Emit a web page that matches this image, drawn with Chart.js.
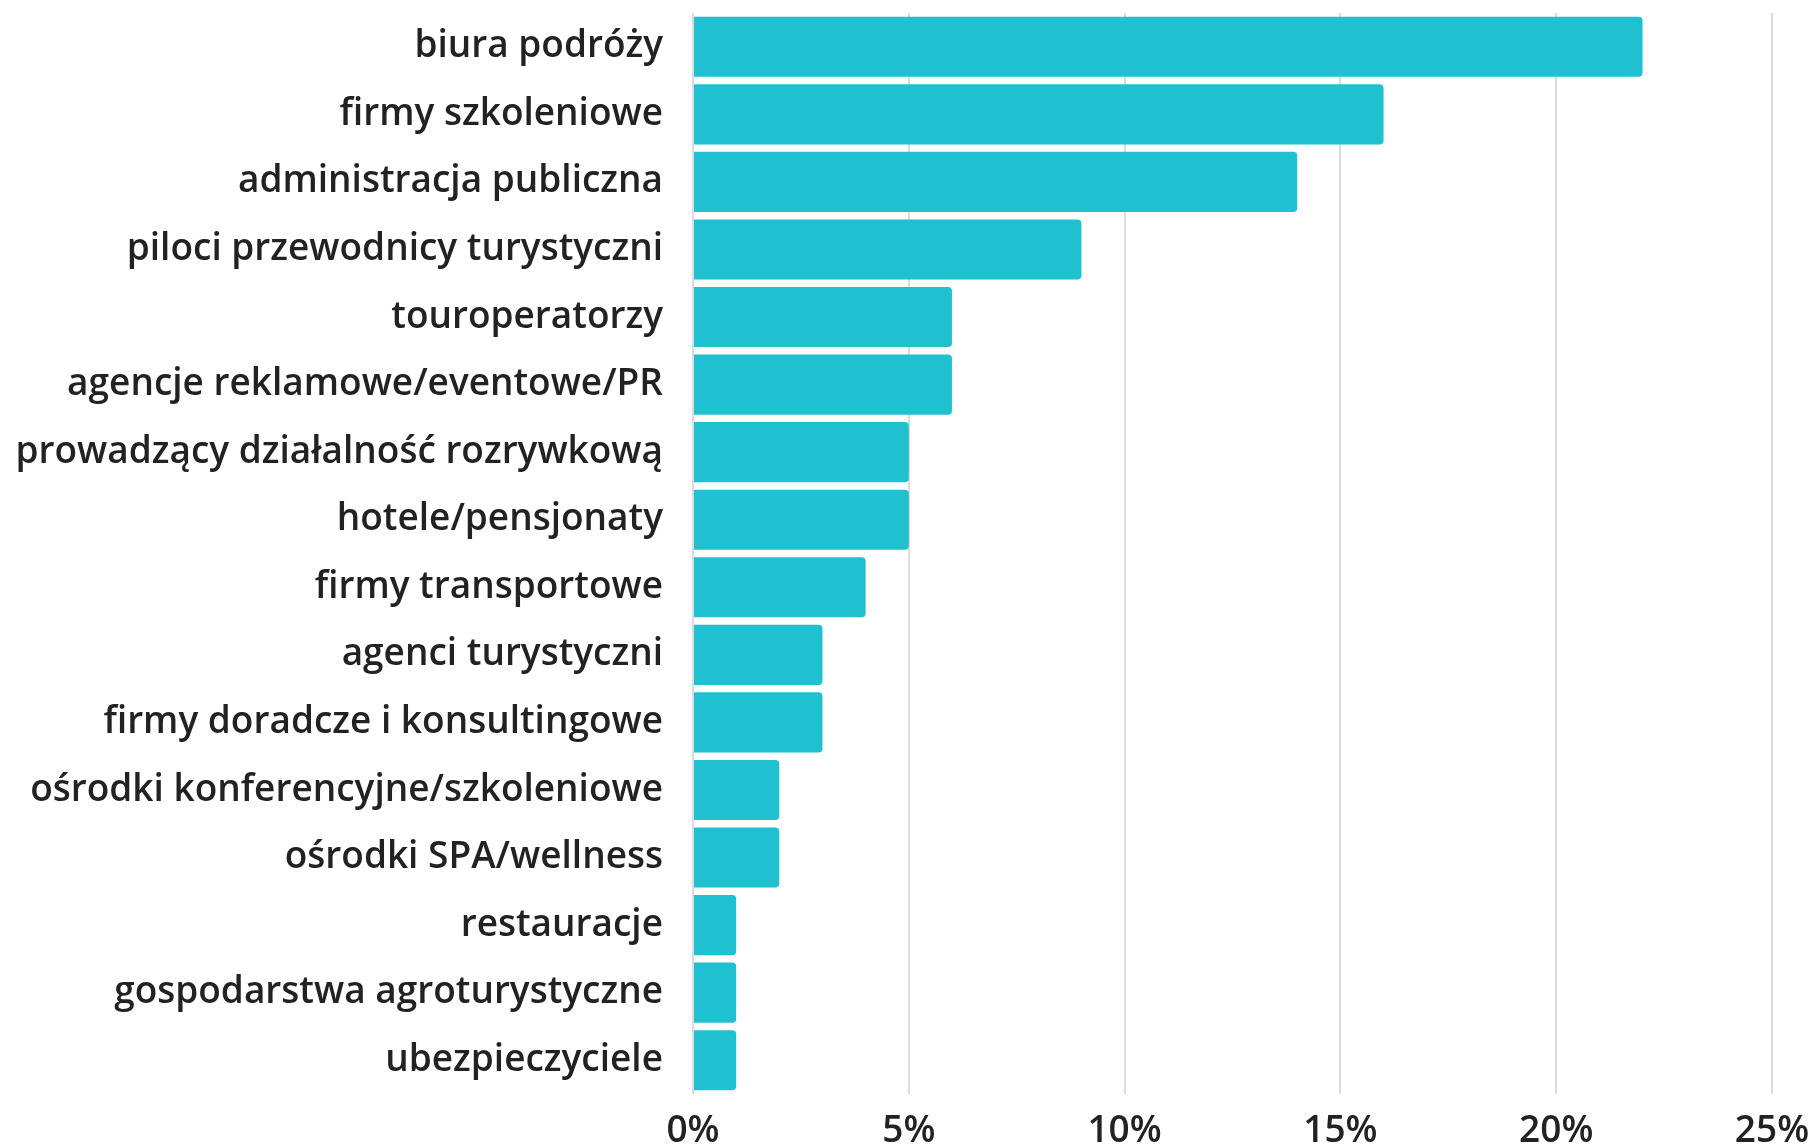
<!DOCTYPE html>
<html lang="pl">
<head>
<meta charset="utf-8">
<title>Wykres słupkowy</title>
<script src="https://cdn.jsdelivr.net/npm/chart.js@4.4.1/dist/chart.umd.min.js"></script>
<style>
    html, body { margin: 0; padding: 0; background: #ffffff; }
    #wrap { width: 1814px; height: 1145px; }
</style>
</head>
<body>
<div id="wrap"><canvas id="chart"></canvas></div>
<script>
//---------
//Dane
//---------

//Kategorie
const categories = [
    "biura podróży",
    "firmy szkoleniowe",
    "administracja publiczna",
    "piloci przewodnicy turystyczni",
    "touroperatorzy",
    "agencje reklamowe/eventowe/PR",
    "prowadzący działalność rozrywkową",
    "hotele/pensjonaty",
    "firmy transportowe",
    "agenci turystyczni",
    "firmy doradcze i konsultingowe",
    "ośrodki konferencyjne/szkoleniowe",
    "ośrodki SPA/wellness",
    "restauracje",
    "gospodarstwa agroturystyczne",
    "ubezpieczyciele"
];

//Wartości (%)
const values = [22, 16, 14, 9, 6, 6, 5, 5, 4, 3, 3, 2, 2, 1, 1, 1];

//Podziałka osi X
const xTicks = [0, 5, 10, 15, 20, 25];

//---------
//Wykres
//---------

const FONT = { family: "'Open Sans', 'Noto Sans', sans-serif", size: 37, weight: 600 };
const ctx = document.getElementById("chart").getContext("2d");

new Chart(ctx, {
    type: "bar",
    data: {
        labels: categories,
        datasets: [
            {
                data: values,
                backgroundColor: "#1fc1d0",
                borderRadius: 4,
                borderSkipped: "start",
                categoryPercentage: 1,
                barPercentage: 0.89
            }
        ]
    },
    options: {
        indexAxis: "y",
        responsive: true,
        maintainAspectRatio: false,
        animation: false,
        layout: { padding: { top: 13, right: 42, bottom: 0, left: 0 } },
        plugins: {
            legend: { display: false },
            tooltip: { enabled: false }
        },
        scales: {
            x: {
                min: xTicks[0],
                max: xTicks[xTicks.length - 1],
                afterBuildTicks: scale => {
                    scale.ticks = xTicks.map(v => ({ value: v }));
                },
                grid: { color: "#dcdcdc", lineWidth: 2, drawTicks: false },
                border: { display: false },
                ticks: {
                    padding: 15,
                    color: "#222222",
                    font: FONT,
                    callback: v => v + "%"
                },
                //Stała wysokość osi, bez dodatkowych marginesów
                afterFit: scale => {
                    scale.height = 51;
                    scale.paddingLeft = 0;
                    scale.paddingRight = 0;
                }
            },
            y: {
                grid: { display: false, drawTicks: false },
                border: { display: false },
                ticks: {
                    padding: 30,
                    color: "#222222",
                    autoSkip: false,
                    font: FONT
                },
                //Stała szerokość osi, bez dodatkowych marginesów
                afterFit: scale => {
                    scale.width = 693;
                    scale.paddingTop = 0;
                    scale.paddingBottom = 0;
                }
            }
        }
    }
});
</script>
</body>
</html>
